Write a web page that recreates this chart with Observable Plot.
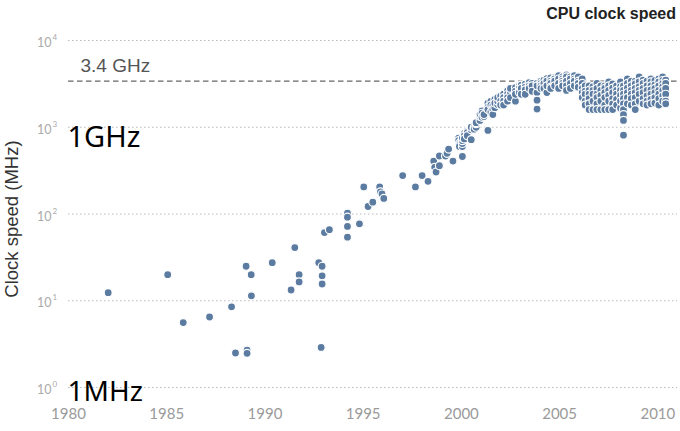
<!DOCTYPE html>
<html><head><meta charset="utf-8">
<script src="https://cdn.jsdelivr.net/npm/d3@7"></script>
<script src="https://cdn.jsdelivr.net/npm/@observablehq/plot@0.6"></script>
<style>
body{margin:0;background:#fff;}
#wrap{position:relative;width:680px;height:431px;overflow:hidden;}
#title{position:absolute;right:4px;top:5px;font:bold 16px "Liberation Sans",Arial,sans-serif;color:#222;}
</style></head><body>
<div id="wrap"><div id="title">CPU clock speed</div><div id="chart"></div></div>
<script>
// [year, clock speed in MHz]
const early = [
  [1982.02,12.4],[1985.05,20],[1985.84,5.6],[1987.18,6.5],[1988.3,8.5],[1988.5,2.5],
  [1989.09,2.7],[1989.09,2.48],[1989.04,25],[1989.3,20],[1989.31,11.4],[1990.37,27.5],
  [1991.33,13.3],[1991.52,41],[1991.74,20],[1991.74,16.5],[1992.74,27.5],[1992.91,25],
  [1992.91,19.4],[1992.91,15.6],[1992.86,2.9]
];
const mid = [
  [1993.03,61],[1993.28,66],[1994.2,102],[1994.2,92],[1994.2,72],[1994.2,54],[1994.81,77],
  [1995.03,205],[1995.25,122],[1995.49,137],[1995.84,205],[1995.88,180],[1995.96,170],
  [1996.05,151],[1997.01,277],[1997.66,205],[1998.0,277],[1998.3,238],[1998.59,407],
  [1998.64,345],[1998.71,305],[1998.88,466],[1998.88,360],[1999.19,466],[1999.27,500],
  [1999.35,560],[1999.57,407],[1999.86,750],[1999.86,700],[1999.91,660],[1999.91,630],[1999.9,600]
];
const boom = [
  [2000.05,460],[2000.05,600],[2000.05,650],[2000.05,700],[2000.05,750],
  [2000.15,850],[2000.15,800],[2000.15,733],[2000.3,900],[2000.3,866],[2000.3,800],
  [2000.5,720],[2000.5,933],[2000.5,1000],[2000.65,1000],[2000.65,950],
  [2000.75,1000],[2000.75,1100],[2000.75,1130],[2000.95,1200],[2000.95,1330],[2000.95,1400],
  [2001.05,1540],[2001.05,1450],[2001.05,1300],[2001.15,1330],[2001.15,1400],
  [2001.35,920],[2001.35,1900],[2001.35,1700],[2001.35,1600],
  [2001.5,1990],[2001.5,1800],[2001.5,1500],[2001.6,1750],[2001.6,1600],[2001.6,1400],
  [2001.7,1680],[2001.7,2090],[2001.7,1900],[2001.85,1830],[2001.85,2000],[2001.85,2200],
  [2002.0,2290],[2002.0,2000],[2002.0,1800],
  [2002.15,2400],[2002.15,2200],[2002.15,2000],[2002.15,1800],
  [2002.35,2630],[2002.35,2400],[2002.35,2200],[2002.35,2000],
  [2002.5,2520],[2002.5,2190],[2002.5,2800],
  [2002.75,2000],[2002.75,2860],[2002.75,2600],[2002.75,2400],
  [2002.95,2990],[2002.95,2800],[2002.95,2600],[2002.95,2510],
  [2003.05,3060],[2003.05,2800],[2003.05,2400],
  [2003.25,3130],[2003.25,2900],[2003.25,2700],[2003.25,2400],
  [2003.45,3270],[2003.45,3000],[2003.45,2800],
  [2003.6,3200],[2003.6,3000],[2003.6,2600],
  [2003.85,2510],[2003.85,2050],[2003.85,1620],[2003.85,3200],[2003.85,3000],
  [2004.05,3400],[2004.05,3200],[2004.05,3000],[2004.05,2800],
  [2004.2,3500],[2004.2,3200],[2004.2,2800],
  [2004.35,3630],[2004.35,2510],[2004.35,3400],[2004.35,3000]
];
const plateau = [
  [2004.55,3700],[2004.55,3400],[2004.55,3200],[2004.55,2900],[2004.55,2800],
  [2004.75,3730],[2004.75,3600],[2004.75,3400],[2004.75,3000],
  [2004.95,3940],[2004.95,3600],[2004.95,3200],[2004.95,2800],
  [2005.15,3800],[2005.15,3600],[2005.15,3400],[2005.15,3200],[2005.15,3000],
  [2005.35,4000],[2005.35,3800],[2005.35,3400],[2005.35,3000],[2005.35,2660],
  [2005.55,3800],[2005.55,3600],[2005.55,3200],[2005.55,2800],
  [2005.75,3930],[2005.75,3600],[2005.75,3400],[2005.75,3000],
  [2005.95,3800],[2005.95,3400],[2005.95,3200],[2005.95,2900],
  [2006.15,3600],[2006.15,3200],[2006.15,2800],[2006.15,2500],[2006.15,2200],
  [2006.3,3000],[2006.3,2600],[2006.3,2400],[2006.3,2000],[2006.3,1800],
  [2006.5,3000],[2006.5,2660],[2006.5,2400],[2006.5,2130],[2006.5,1860],[2006.5,1600],
  [2006.7,2930],[2006.7,2660],[2006.7,2400],[2006.7,2000],[2006.7,1600],
  [2006.9,3200],[2006.9,2800],[2006.9,2400],[2006.9,2200],[2006.9,1860],[2006.9,1600],
  [2007.1,3000],[2007.1,2660],[2007.1,2330],[2007.1,2000],[2007.1,1600],
  [2007.3,3000],[2007.3,2800],[2007.3,2500],[2007.3,2200],[2007.3,1800],[2007.3,1600],
  [2007.5,3330],[2007.5,3000],[2007.5,2660],[2007.5,2330],[2007.5,2000],[2007.5,1600],
  [2007.7,3160],[2007.7,2830],[2007.7,2500],[2007.7,2130],[2007.7,1860],[2007.7,1600],
  [2007.9,3000],[2007.9,2660],[2007.9,2400],[2007.9,2100],[2007.9,1800],
  [2008.1,3330],[2008.1,2930],[2008.1,2660],[2008.1,2330],[2008.1,2000],[2008.1,1660],
  [2008.25,3000],[2008.25,2660],[2008.25,2400],[2008.25,2130],[2008.25,1860],[2008.25,1600],
  [2008.25,1400],[2008.25,1200],[2008.25,810],
  [2008.45,3600],[2008.45,3200],[2008.45,2830],[2008.45,2500],[2008.45,2200],[2008.45,1860],
  [2008.65,3400],[2008.65,3000],[2008.65,2660],[2008.65,2400],[2008.65,2130],[2008.65,1800],
  [2008.85,3400],[2008.85,3160],[2008.85,2800],[2008.85,2500],[2008.85,2200],[2008.85,1860],[2008.85,1600],
  [2009.05,3800],[2009.05,3330],[2009.05,2930],[2009.05,2660],[2009.05,2400],[2009.05,2000],
  [2009.25,3500],[2009.25,3200],[2009.25,2800],[2009.25,2500],[2009.25,2130],[2009.25,1860],
  [2009.45,3400],[2009.45,3000],[2009.45,2660],[2009.45,2300],[2009.45,2000],[2009.45,1800],
  [2009.65,3600],[2009.65,3330],[2009.65,3000],[2009.65,2700],[2009.65,2400],[2009.65,2100],[2009.65,1860],
  [2009.85,3460],[2009.85,3070],[2009.85,2800],[2009.85,2500],[2009.85,2200],[2009.85,1900],
  [2010.05,3600],[2010.05,3330],[2010.05,3000],[2010.05,2660],[2010.05,2400],[2010.05,2130],[2010.05,1800],
  [2010.25,3800],[2010.25,3460],[2010.25,3200],[2010.25,2930],[2010.25,2660],[2010.25,2300],[2010.25,2000],
  [2010.4,3500],[2010.4,3200],[2010.4,2800],[2010.4,2400],[2010.4,2000],[2010.4,1860]
];
const yTicks = [1, 10, 100, 1000, 10000];
const yExponents = ["0", "1", "2", "3", "4"];
const xTicks = [1980, 1985, 1990, 1995, 2000, 2005, 2010];
const xDomain = [1980, 2011];
const threshold = 3400;
const thresholdLabel = "3.4 GHz";
const unitGHz = [{v: 1000, label: "1GHz"}];
const unitMHz = [{v: 1, label: "1MHz"}];
const yLabel = "Clock speed (MHz)";

const data = [...early, ...mid, ...boom, ...plateau].map(([year, mhz]) => ({year, mhz}));

const chart = Plot.plot({
  width: 680, height: 431,
  marginTop: 40, marginBottom: 44, marginLeft: 68, marginRight: 3,
  style: {background: "transparent", fontFamily: "Lato, sans-serif"},
  x: {domain: xDomain, axis: null},
  y: {type: "log", domain: [1, 10000], axis: null},
  marks: [
    Plot.gridY(yTicks, {stroke: "#bbb", strokeOpacity: 1, strokeDasharray: "1.5,2.5"}),
    Plot.axisX(xTicks, {tickSize: 0, tickPadding: 21, fontSize: 15, fill: "#9a9a9a", tickFormat: "d", label: null}),
    Plot.text(yTicks, {frameAnchor: "left", y: d => d, text: () => "10", textAnchor: "end", dx: -17, dy: 2.5, fontSize: 12.5, fill: "#aaa"}),
    Plot.text(yTicks, {frameAnchor: "left", y: d => d, text: (d, i) => yExponents[i], textAnchor: "start", dx: -16, dy: -3, fontSize: 8, fill: "#aaa"}),
    Plot.text([yLabel], {frameAnchor: "left", text: d => d, rotate: -90, textAnchor: "middle", dx: -56, dy: 5, fontSize: 18.5, fill: "#333", fontFamily: "Liberation Sans"}),
    Plot.ruleY([threshold], {stroke: "#666", strokeWidth: 1.2, strokeDasharray: "5.5,3.5"}),
    Plot.text([threshold], {frameAnchor: "left", y: d => d, text: () => thresholdLabel, textAnchor: "start", dx: 12, dy: -15, fontSize: 19, fill: "#555", fontFamily: "Liberation Sans"}),
    Plot.dot(data, {x: "year", y: "mhz", r: 4, fill: "#5b7ba1", stroke: "white", strokeWidth: 1.2}),
    Plot.text(unitGHz, {frameAnchor: "left", y: "v", text: "label", textAnchor: "start", dx: -1, dy: 10, fontSize: 29, fill: "#000", fontFamily: "Noto Sans"}),
    Plot.text(unitMHz, {frameAnchor: "left", y: "v", text: "label", textAnchor: "start", dx: -1, dy: 5, fontSize: 28, fill: "#000", fontFamily: "Noto Sans"})
  ]
});
document.getElementById("chart").appendChild(chart);
</script>
</body></html>
